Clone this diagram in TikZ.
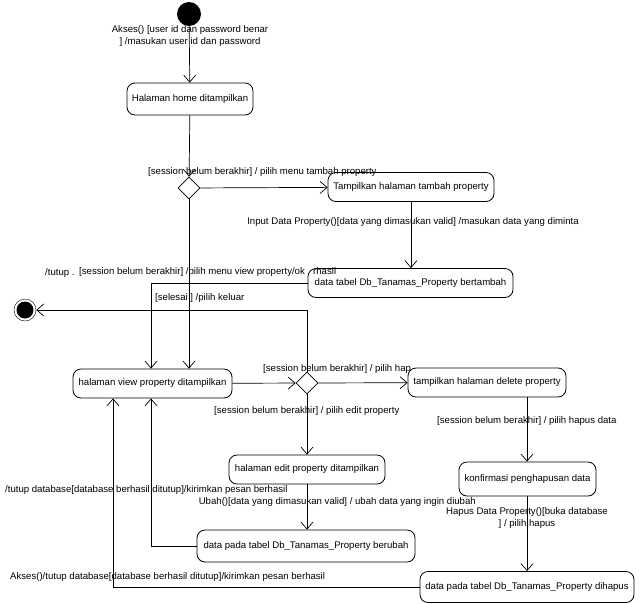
\documentclass[tikz,border=0pt]{standalone}
\usepackage{fontspec}
\setmainfont{Liberation Sans}
\usetikzlibrary{arrows.meta,positioning,shapes.geometric}
\tikzset{
  % aktivitas
  aktivitas/.style={draw, rounded corners=8pt, line width=0.8pt, minimum height=29pt,
    inner sep=1pt, font=\fontsize{9.6}{11}\selectfont},
  % awal dan akhir
  awal/.style={circle, fill=black, minimum size=24pt, inner sep=0pt},
  akhir/.style={circle, draw, minimum size=22pt, inner sep=0pt,
    path picture={\fill (path picture bounding box.center) circle (8.5pt);}},
  % keputusan
  keputusan/.style={diamond, draw, line width=0.8pt, minimum size=22pt, inner sep=0pt},
  % panah
  panah/.style={-{Straight Barb[length=7pt,width=12pt]}, line width=0.7pt},
  % label panah
  ket/.style={font=\fontsize{9.6}{11.5}\selectfont, inner sep=1pt, align=center},
}
\begin{document}
\begin{tikzpicture}[x=1pt, y=-1pt]
    \useasboundingbox (0,0) rectangle (640,603);

    % Awal dan akhir
    \node[awal] (mulai) at (189,14) {};
    \node[akhir] (selesai) at (25,310) {};

    % Aktivitas
    \node[aktivitas, minimum width=126pt, minimum height=32pt] (home) at (190,99) {Halaman home ditampilkan};
    \node[aktivitas, minimum width=166pt] (tambah) at (411,187) {Tampilkan halaman tambah property};
    \node[aktivitas, minimum width=205pt] (bertambah) at (410.5,283) {data tabel Db\_Tanamas\_Property bertambah};
    \node[aktivitas, minimum width=159pt] (view) at (152.5,383.5) {halaman view property ditampilkan};
    \node[aktivitas, minimum width=158pt] (delete) at (487,382.5) {tampilkan halaman delete property};
    \node[aktivitas, minimum width=156pt] (edit) at (307,469.5) {halaman edit property ditampilkan};
    \node[aktivitas, minimum width=218pt, minimum height=32pt] (berubah) at (306,546) {data pada tabel Db\_Tanamas\_Property berubah};
    \node[aktivitas, minimum width=137pt, minimum height=34pt] (konfirmasi) at (527.5,479) {konfirmasi penghapusan data};
    \node[aktivitas, minimum width=214pt, minimum height=31pt] (dihapus) at (527,587) {data pada tabel Db\_Tanamas\_Property dihapus};

    % Keputusan
    \node[keputusan] (pilih1) at (189,188) {};
    \node[keputusan] (pilih2) at (307,383) {};

    % Transisi
    \draw[panah] (mulai) -- (home);
    \draw[panah] (home) -- (pilih1);
    \draw[panah] (pilih1) -- (tambah);
    \draw[panah] (tambah.south -| 411,0) -- (bertambah.north -| 411,0);
    \draw[panah] (pilih1.south) -- (pilih1.south |- view.north);
    \draw[panah] (bertambah.west) -| (151,0 |- view.north);
    \draw[panah] (pilih2.north) |- (selesai.east);
    \draw[panah] (view) -- (pilih2);
    \draw[panah] (pilih2) -- (delete);
    \draw[panah] (pilih2.south) -- (pilih2.south |- edit.north);
    \draw[panah] (edit.south -| 307,0) -- (berubah.north -| 307,0);
    \draw[panah] (berubah.west) -| (151,0 |- view.south);
    \draw[panah] (delete.south -| 527,0) -- (konfirmasi.north -| 527,0);
    \draw[panah] (konfirmasi.south -| 527,0) -- (dihapus.north -| 527,0);
    \draw[panah] (dihapus.west) -| (113,0 |- view.south);

    % Label transisi
    \node[ket] (k1) at (190,36) {Akses() [user id dan password benar\\] /masukan user id dan password};
    \node[ket, anchor=west] (k2) at (147,172) {[session belum berakhir] / pilih menu tambah property};
    \node[ket] (k3) at (413,222) {Input Data Property()[data yang dimasukan valid] /masukan data yang diminta};
    \node[ket, anchor=west] (k4) at (78,272) {[session belum berakhir] /pilih menu view property/ok};
    \node[ket, anchor=west] (k5) at (44,273) {/tutup .};
    \node[ket, anchor=west] (k6) at (312,271) {rhasil};
    \node[ket, anchor=west] (k7) at (154,298) {[selesai ] /pilih keluar};
    \node[ket, anchor=west] (k8) at (262,369) {[session belum berakhir] / pilih hap};
    \node[ket, anchor=west] (k9) at (213,411) {[session belum berakhir] / pilih edit property};
    \node[ket, anchor=west] (k10) at (436,421) {[session belum berakhir] / pilih hapus data};
    \node[ket, anchor=west] (k11) at (4,490) {/tutup database[database berhasil ditutup]/kirimkan pesan berhasil};
    \node[ket, anchor=east] (k12) at (477,502) {Ubah()[data yang dimasukan valid] / ubah data yang ingin diubah};
    \node[ket] (k13) at (527,518) {Hapus Data Property()[buka database\\] / pilih hapus};
    \node[ket, anchor=west] (k14) at (9,577) {Akses()/tutup database[database berhasil ditutup]/kirimkan pesan berhasil};
\end{tikzpicture}
\end{document}
